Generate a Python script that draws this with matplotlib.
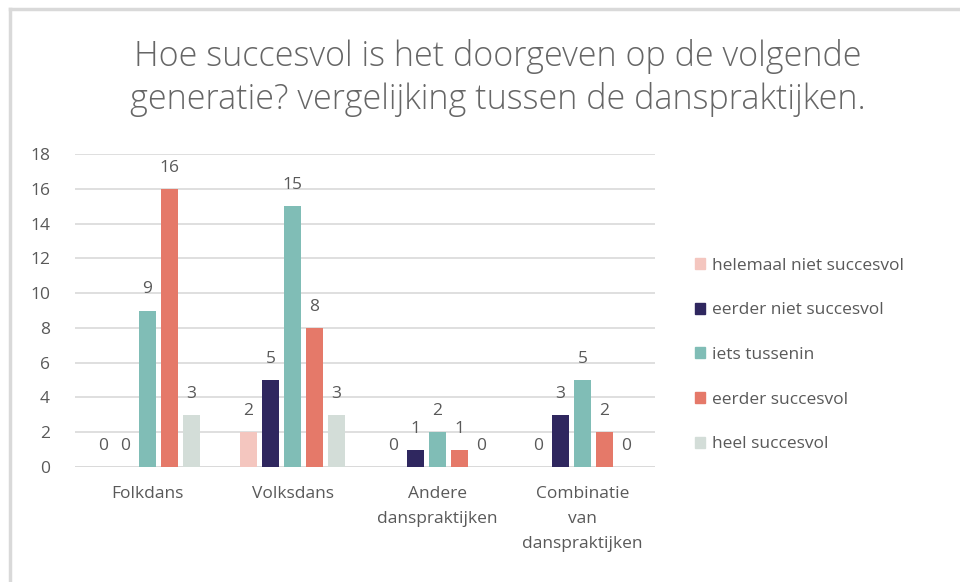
import matplotlib
matplotlib.use("Agg")
import matplotlib.pyplot as plt
from matplotlib.lines import Line2D
import numpy as np

plt.rcParams['font.family'] = ['Open Sans', 'DejaVu Sans']

categories = ["Folkdans", "Volksdans", "Andere\ndanspraktijken", "Combinatie\nvan\ndanspraktijken"]
series_names = ["helemaal niet succesvol", "eerder niet succesvol", "iets tussenin",
                "eerder succesvol", "heel succesvol"]
helemaal_niet = [0, 2, 0, 0]
eerder_niet = [0, 5, 1, 3]
iets_tussenin = [9, 15, 2, 5]
eerder_succesvol = [16, 8, 1, 2]
heel_succesvol = [3, 3, 0, 0]
series_values = [helemaal_niet, eerder_niet, iets_tussenin, eerder_succesvol, heel_succesvol]
colors = ["#F4C6BF", "#2F275F", "#80BDB6", "#E57969", "#D3DDD8"]
title = "Hoe succesvol is het doorgeven op de volgende\ngeneratie? vergelijking tussen de danspraktijken."

W, H = 960, 582
fig = plt.figure(figsize=(W / 100, H / 100), dpi=100)
ax = fig.add_axes([75 / W, 1 - 467 / H, 580 / W, (467 - 154) / H])

x = np.arange(len(categories))
step = 0.152
width = 0.112
text_color = "#595959"
fs = 12.5
for i, (name, vals, c) in enumerate(zip(series_names, series_values, colors)):
    pos = x + (i - 2) * step
    ax.bar(pos, vals, width=width, color=c, label=name, zorder=3)
    for p, v in zip(pos, vals):
        ax.text(p, v + 0.75, str(v), ha="center", va="bottom", fontsize=fs, color=text_color)

ax.set_xlim(-0.5, 3.5)
ax.set_ylim(0, 18)
ax.set_yticks(range(0, 19, 2))
ax.yaxis.grid(True, color="#D9D9D9", linewidth=1.2, zorder=0)
for s in ax.spines.values():
    s.set_visible(False)
ax.axhline(0, color="#D9D9D9", linewidth=1.2, zorder=1)
ax.tick_params(axis="both", length=0, labelsize=fs, labelcolor=text_color)
ax.tick_params(axis="y", pad=18)
ax.set_xticks(x)
ax.set_xticklabels(categories, linespacing=1.75)
ax.tick_params(axis="x", pad=14)

fig.text(498 / W, 1 - 78 / H, title, ha="center", va="center", fontsize=24.6,
         color="#666666", linespacing=1.28, fontweight="light")

handles = [plt.Rectangle((0, 0), 1, 1, color=c) for c in colors]
fig.legend(handles, series_names, loc="center left", bbox_to_anchor=(679 / W, 1 - 355 / H),
           frameon=False, fontsize=fs, handlelength=0.6, handleheight=0.6,
           handletextpad=0.4, labelspacing=1.65, labelcolor=text_color)

fig.add_artist(Line2D([10 / W, 10 / W], [0, 1 - 9 / H], color="#D9D9D9", linewidth=2.5,
                      transform=fig.transFigure))
fig.add_artist(Line2D([10 / W, 1], [1 - 9 / H, 1 - 9 / H], color="#D9D9D9", linewidth=2.5,
                      transform=fig.transFigure))

fig.savefig("out.png", dpi=100, facecolor="white")
